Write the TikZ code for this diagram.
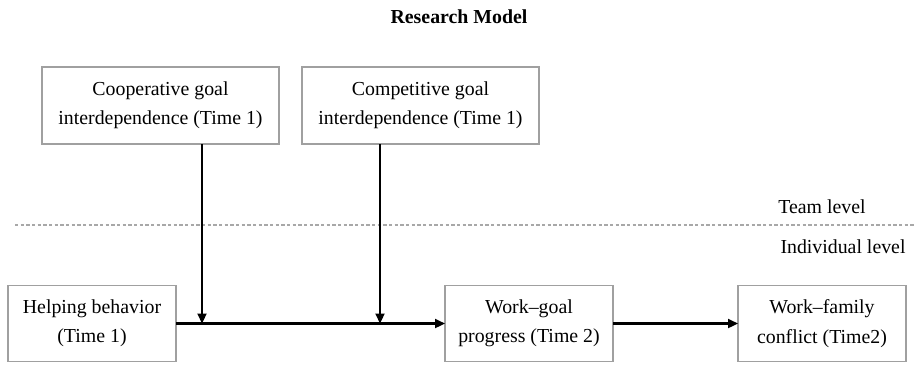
\documentclass[tikz,border=0pt]{standalone}
\usepackage{fontspec}
\setmainfont{Liberation Serif}
\usetikzlibrary{arrows.meta}
\definecolor{modelGray}{HTML}{A0A0A0}
\definecolor{modelDash}{HTML}{A8A8A8}
\tikzset{
  research model/.style={
    line width=1.3pt,
    >={Triangle[length=6pt,width=5.4pt]},
    every node/.style={font=\fontsize{11.9}{17.6}\selectfont,
      text=black, inner sep=0pt, outer sep=0pt, align=center}
  },
  model box/.style={draw=modelGray, line width=0.7pt,
    minimum width=100.8pt, minimum height=45.6pt},
  goal box/.style={model box, minimum width=142.2pt, minimum height=46.2pt},
  level line/.style={draw=modelDash, line width=0.7pt,
    dash pattern=on 2pt off 1.4pt}
}

\begin{document}
\begin{tikzpicture}[research model,x=0.6pt,y=-0.6pt]
    \useasboundingbox (0,0) rectangle (915,364);
    \node[font=\fontsize{11.9}{14}\selectfont\bfseries] (title) at (459,17) {Research Model};

    % team level
    \node[goal box] (coopGoal) at (160.5,105.5)
      {Cooperative goal\\interdependence (Time 1)};
    \node[goal box] (compGoal) at (420.5,105.5)
      {Competitive goal\\interdependence (Time 1)};

    \draw[level line] (15,225) -- (915,225);
    \node (teamLvl) at (822,207) {Team level};
    \node (indivLvl) at (843,247) {Individual level};

    % individual level
    \node[model box] (helping) at (92,323.5) {Helping behavior\\(Time 1)};
    \node[model box] (goalProgress) at (529,323.5) {Work--goal\\progress (Time 2)};
    \node[model box] (wfConflict) at (822,323.5) {Work--family\\conflict (Time2)};

    \coordinate (coopJoin) at (202,323.5);
    \coordinate (compJoin) at (380,323.5);

    \draw[->] (helping) -- (goalProgress);
    \draw[->] (goalProgress) -- (wfConflict);
    \draw[->] (coopJoin |- coopGoal.south) -- (coopJoin);
    \draw[->] (compJoin |- compGoal.south) -- (compJoin);
  \end{tikzpicture}
\end{document}
